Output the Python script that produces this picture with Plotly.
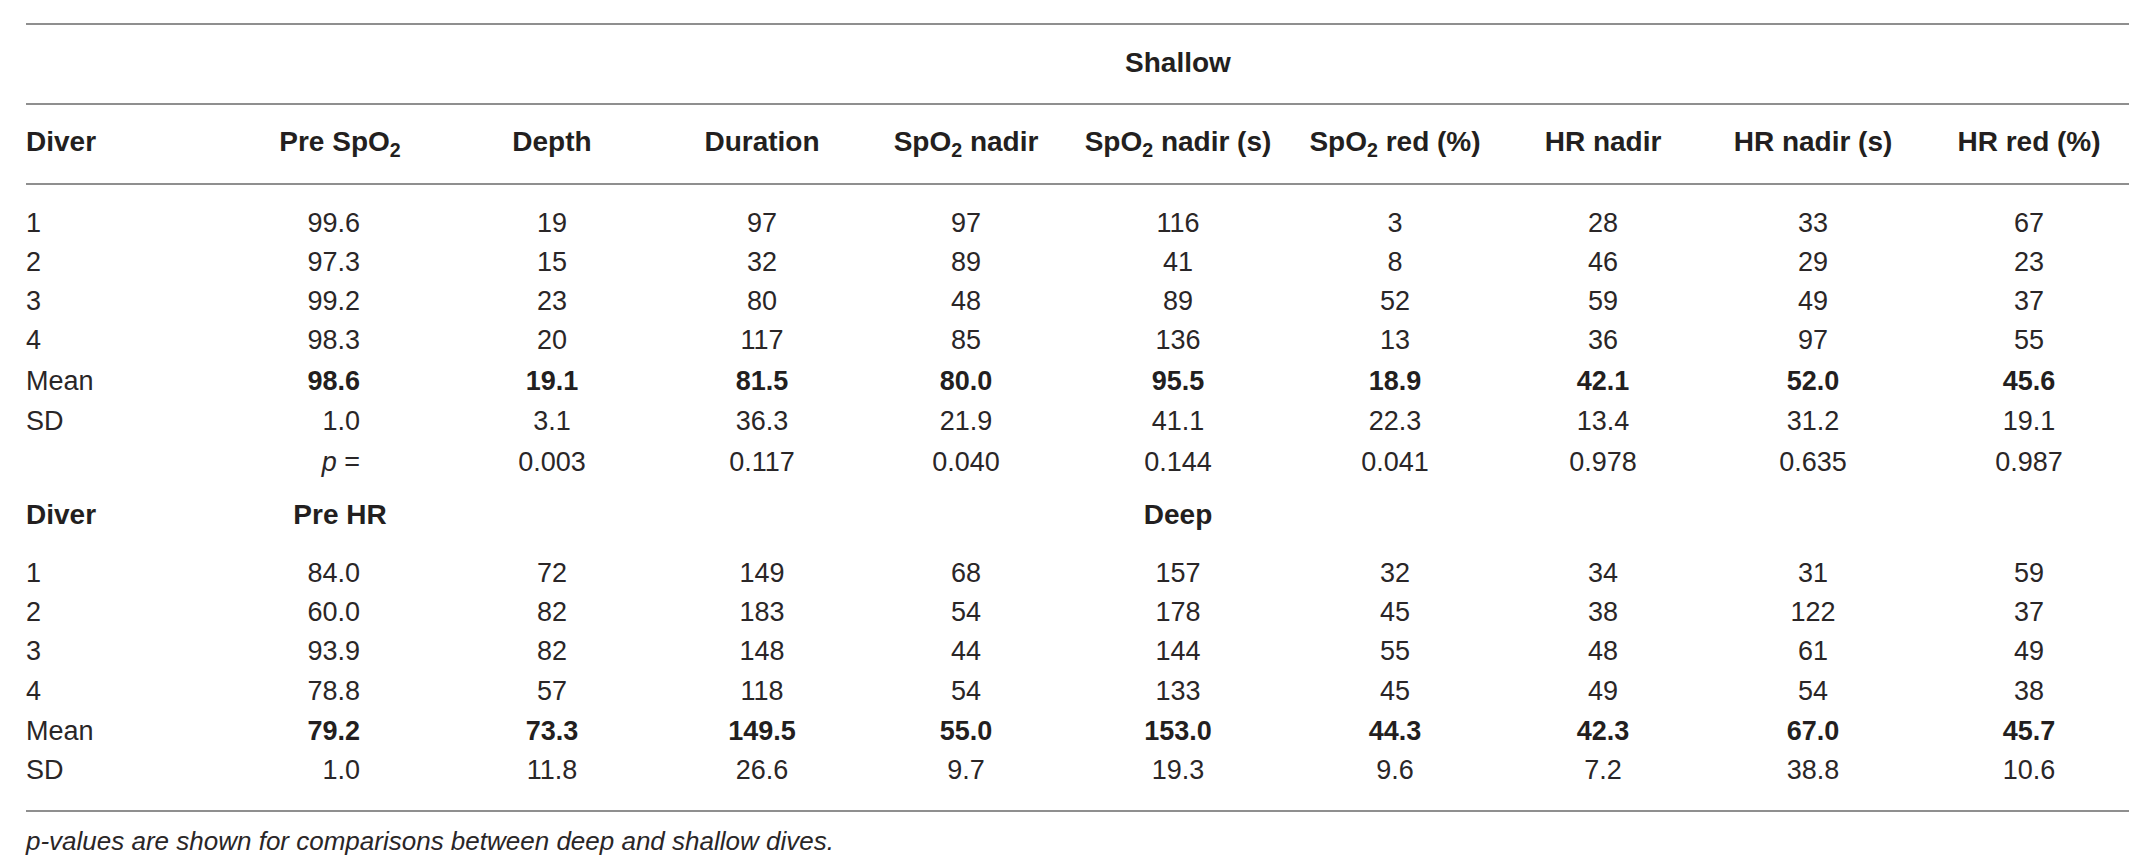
import plotly.graph_objects as go

# ---- table content ---------------------------------------------------------
HEADERS = [
    "Diver",
    "Pre SpO<sub>2</sub>",
    "Depth",
    "Duration",
    "SpO<sub>2</sub> nadir",
    "SpO<sub>2</sub> nadir (s)",
    "SpO<sub>2</sub> red (%)",
    "HR nadir",
    "HR nadir (s)",
    "HR red (%)",
]
GROUP_SHALLOW = "Shallow"
GROUP_DEEP = "Deep"
DEEP_FIRST_HEADER = "Pre HR"
ROW_LABELS = ["1", "2", "3", "4", "Mean", "SD"]

shallow_rows = [
    ["99.6", "19", "97", "97", "116", "3", "28", "33", "67"],
    ["97.3", "15", "32", "89", "41", "8", "46", "29", "23"],
    ["99.2", "23", "80", "48", "89", "52", "59", "49", "37"],
    ["98.3", "20", "117", "85", "136", "13", "36", "97", "55"],
    ["98.6", "19.1", "81.5", "80.0", "95.5", "18.9", "42.1", "52.0", "45.6"],
    ["1.0", "3.1", "36.3", "21.9", "41.1", "22.3", "13.4", "31.2", "19.1"],
]
p_values = ["0.003", "0.117", "0.040", "0.144", "0.041", "0.978", "0.635", "0.987"]
deep_rows = [
    ["84.0", "72", "149", "68", "157", "32", "34", "31", "59"],
    ["60.0", "82", "183", "54", "178", "45", "38", "122", "37"],
    ["93.9", "82", "148", "44", "144", "55", "48", "61", "49"],
    ["78.8", "57", "118", "54", "133", "45", "49", "54", "38"],
    ["79.2", "73.3", "149.5", "55.0", "153.0", "44.3", "42.3", "67.0", "45.7"],
    ["1.0", "11.8", "26.6", "9.7", "19.3", "9.6", "7.2", "38.8", "10.6"],
]
FOOTNOTE = "<i>p-values are shown for comparisons between deep and shallow dives.</i>"

# ---- layout (pixel-like coordinates on hidden axes) ------------------------
W, H = 2139, 868
X_LEFT, X_RIGHT = 18, 2121
X_PRE_RIGHT = 352  # first numeric column is right-aligned
X_PRE_HEAD = 332
COL_X = [544, 754, 958, 1170, 1387, 1595, 1805, 2021]
X_GROUP = 1170

Y_LINES = [16, 96, 176, 803]
Y_GROUP = 57
Y_HEAD = 136
Y_SHALLOW = [217, 256, 295, 334, 375, 415]
Y_P = 456
Y_HEAD2 = 509
Y_DEEP = [567, 606, 645, 685, 725, 764]
Y_FOOT = 835

INK = "#231f20"
FAMILY = "Liberation Sans, Arial, sans-serif"
REG = dict(family=FAMILY, size=27, color="#2a2627")
BOLD = dict(family=FAMILY, size=28, color=INK, weight="bold")

fig = go.Figure()


def add_text(xs, ys, texts, pos, font):
    fig.add_trace(
        go.Scatter(
            x=xs,
            y=ys,
            text=texts,
            mode="text",
            textposition=pos,
            textfont=font,
            hoverinfo="skip",
            showlegend=False,
        )
    )


def bold(s):
    return f"<b>{s}</b>"


# group headers
add_text([X_GROUP], [Y_GROUP], [bold(GROUP_SHALLOW)], "middle center", BOLD)
add_text([X_GROUP], [Y_HEAD2], [bold(GROUP_DEEP)], "middle center", BOLD)

# column headers
add_text([X_LEFT, X_LEFT], [Y_HEAD, Y_HEAD2], [bold(HEADERS[0])] * 2, "middle right", BOLD)
add_text([X_PRE_HEAD, X_PRE_HEAD], [Y_HEAD, Y_HEAD2],
         [bold(HEADERS[1]), bold(DEEP_FIRST_HEADER)], "middle center", BOLD)
add_text(COL_X, [Y_HEAD] * len(COL_X), [bold(h) for h in HEADERS[2:]], "middle center", BOLD)

# row labels
add_text([X_LEFT] * 12, Y_SHALLOW + Y_DEEP, ROW_LABELS * 2, "middle right", REG)


def add_block(rows, ys):
    for r, (row, y) in enumerate(zip(rows, ys)):
        is_mean = ROW_LABELS[r] == "Mean"
        cells = [bold(v) if is_mean else v for v in row]
        font = dict(REG, color=INK) if is_mean else REG
        add_text([X_PRE_RIGHT], [y], cells[:1], "middle left", font)
        add_text(COL_X, [y] * len(COL_X), cells[1:], "middle center", font)


add_block(shallow_rows, Y_SHALLOW)
add_block(deep_rows, Y_DEEP)

# p-value row
add_text([X_PRE_RIGHT], [Y_P], ["<i>p</i> ="], "middle left", REG)
add_text(COL_X, [Y_P] * len(COL_X), p_values, "middle center", REG)

# footnote
add_text([X_LEFT], [Y_FOOT], [FOOTNOTE], "middle right",
         dict(family=FAMILY, size=26, color="#2a2627"))

# rules
for y in Y_LINES:
    fig.add_shape(type="line", x0=X_LEFT, x1=X_RIGHT, y0=y, y1=y,
                  xref="x", yref="y", line=dict(color="#8f8f8f", width=2))

fig.update_layout(
    width=W,
    height=H,
    margin=dict(l=0, r=0, t=0, b=0),
    paper_bgcolor="white",
    plot_bgcolor="white",
    xaxis=dict(range=[0, W], visible=False, fixedrange=True),
    yaxis=dict(range=[H, 0], visible=False, fixedrange=True),
)

fig.write_html("out.html")
